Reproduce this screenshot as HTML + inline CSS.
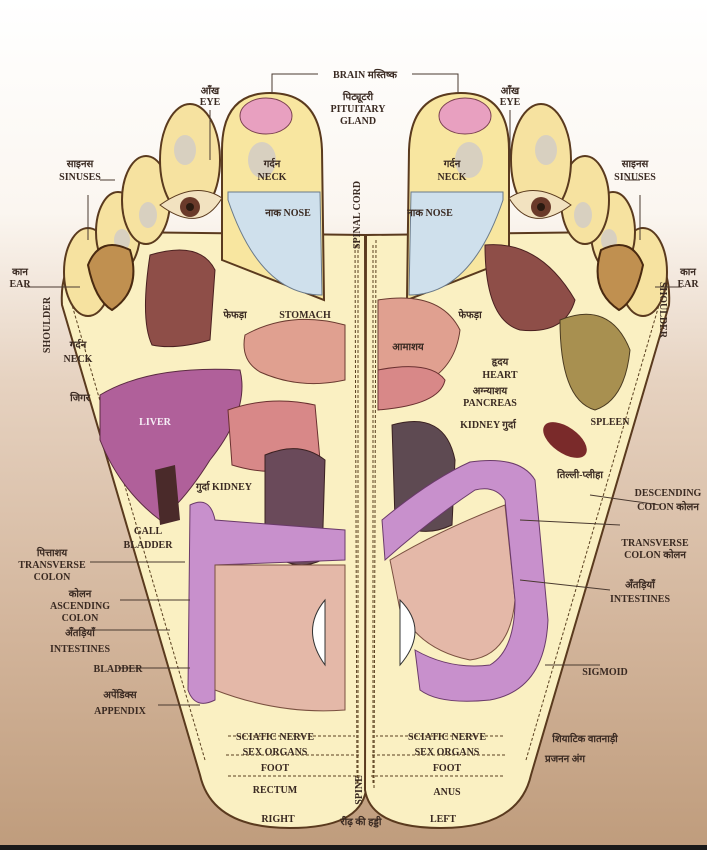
<!DOCTYPE html>
<html><head><meta charset="utf-8"><style>
html,body{margin:0;padding:0;width:707px;height:850px;overflow:hidden}
svg{display:block}
text{font-family:"Liberation Serif","Noto Serif CJK SC","Noto Sans CJK SC",serif;font-weight:bold;fill:#3a2a22;font-size:10px}
.c{text-anchor:middle}
.l{stroke:#4a3a30;stroke-width:1;fill:none}
.d{stroke:#5a4020;stroke-width:1;stroke-dasharray:3,2;fill:none}
</style></head><body>
<svg width="707" height="850" viewBox="0 0 707 850">
<defs>
<linearGradient id="bg" x1="0" y1="0" x2="0" y2="1">
<stop offset="0" stop-color="#ffffff"/><stop offset="0.25" stop-color="#fbf6f0"/>
<stop offset="0.45" stop-color="#e6d2c0"/><stop offset="0.75" stop-color="#d2b49a"/>
<stop offset="1" stop-color="#bf9c7c"/></linearGradient>
<g id="foot">
<path d="M365 235 L366 790 Q360 828 290 828 Q212 828 200 775 L62 305 Q58 245 120 232 Z" fill="#faf0c2" stroke="#5a3a1e" stroke-width="2"/>
<path d="M358 245 L358 785 M205 760 L72 305" class="d"/>
<ellipse cx="88" cy="272" rx="24" ry="44" fill="#f6e2a0" stroke="#5a3a1e" stroke-width="2"/>
<ellipse cx="118" cy="232" rx="22" ry="40" fill="#f6e2a0" stroke="#5a3a1e" stroke-width="2"/>
<ellipse cx="146" cy="200" rx="24" ry="44" fill="#f6e2a0" stroke="#5a3a1e" stroke-width="2"/>
<ellipse cx="190" cy="160" rx="30" ry="56" fill="#f6e2a0" stroke="#5a3a1e" stroke-width="2"/>
<path d="M222 260 L222 150 Q222 93 270 93 Q320 93 322 150 L324 300 Z" fill="#f8e6a0" stroke="#5a3a1e" stroke-width="2"/>
<path d="M228 192 L320 192 L322 295 Q260 295 228 200 Z" fill="#cfe0ec" stroke="#6a7a8a"/>
<ellipse cx="266" cy="116" rx="26" ry="18" fill="#e8a0c0" stroke="#7a4050"/>
<ellipse cx="262" cy="160" rx="14" ry="18" fill="#d8d0c0"/>
<ellipse cx="185" cy="150" rx="11" ry="15" fill="#d8d0c0"/>
<ellipse cx="148" cy="215" rx="9" ry="13" fill="#d8d0c0"/>
<ellipse cx="122" cy="240" rx="8" ry="11" fill="#d8d0c0"/>
<path d="M160 205 Q195 180 222 198 Q200 235 160 205 Z" fill="#f2e2c0" stroke="#5a3a1e"/>
<circle cx="190" cy="207" r="10" fill="#6a3a2a"/><circle cx="190" cy="207" r="4" fill="#2a1a10"/>
<path d="M88 265 Q100 235 130 250 Q142 290 112 310 Q95 300 88 265 Z" fill="#c09050" stroke="#4a2a10" stroke-width="2"/>
<path d="M355 240 L357 790" class="d"/>
<path d="M228 736 L355 736 M226 755 L360 755 M228 776 L360 776" class="d"/>
</g>
</defs>
<rect width="707" height="850" fill="url(#bg)"/>
<rect y="845" width="707" height="5" fill="#1a1a1a"/>
<use href="#foot"/>
<use href="#foot" transform="translate(731,0) scale(-1,1)"/>
<!-- left organs -->
<path d="M150 255 Q200 240 215 270 L210 340 Q175 350 152 345 Q140 320 150 255 Z" fill="#8e4e48" stroke="#4a2020"/>
<path d="M245 335 Q290 310 345 325 L345 380 Q300 390 260 372 Q240 360 245 335 Z" fill="#e0a090" stroke="#6a3a30"/>
<path d="M100 395 Q150 365 240 370 Q250 410 210 460 Q185 500 160 520 Q120 490 100 440 Z" fill="#b0609a" stroke="#5a2a40"/>
<path d="M155 470 L175 465 L180 520 L160 525 Z" fill="#4a2a2a"/>
<path d="M228 410 Q270 395 315 405 L320 460 Q280 480 232 465 Z" fill="#d88888" stroke="#6a3030"/>
<path d="M265 455 Q300 440 325 460 L322 560 Q290 575 265 545 Z" fill="#6a4a5a" stroke="#3a2020"/>
<path d="M190 505 Q210 495 215 520 L345 530 L345 560 L215 565 L215 700 Q195 710 188 690 Z" fill="#c890cc" stroke="#6a3a6a"/>
<path d="M215 565 L345 565 L345 710 Q280 715 215 690 Z" fill="#e4b8a8" stroke="#7a5040"/>
<path d="M325 600 Q300 630 325 665 Z" fill="#fff" stroke="#333"/>
<!-- right organs -->
<path d="M485 245 Q540 240 575 300 Q565 335 520 330 Q485 320 485 245 Z" fill="#8e4e48" stroke="#4a2020"/>
<path d="M560 320 Q610 300 630 350 Q625 400 595 410 Q560 400 560 320 Z" fill="#a89050" stroke="#4a3a20"/>
<ellipse cx="565" cy="440" rx="25" ry="13" transform="rotate(35 565 440)" fill="#7a2a2a"/>
<path d="M378 300 Q440 290 460 330 Q455 370 420 385 L378 385 Z" fill="#e0a090" stroke="#6a3a30"/>
<path d="M378 370 Q430 360 445 380 Q440 405 378 410 Z" fill="#d88888" stroke="#6a3030"/>
<path d="M392 425 Q445 410 455 460 L452 525 Q420 540 395 520 Z" fill="#5e4a52" stroke="#3a2020"/>
<path d="M390 560 Q440 530 505 505 L515 600 Q510 655 470 660 Q420 650 400 610 Z" fill="#e4b8a8" stroke="#7a5040"/>
<path d="M382 520 Q430 480 470 462 Q520 455 535 480 L548 620 Q545 690 490 700 Q440 705 420 690 L415 650 Q450 670 490 665 Q515 650 515 600 L505 500 Q495 485 475 490 Q430 520 385 560 Z" fill="#c890cc" stroke="#6a3a6a"/>
<path d="M400 600 Q430 630 400 665 Z" fill="#fff" stroke="#333"/>
<!-- leader lines -->
<path class="l" d="M272 93 L272 74 L318 74 M412 74 L458 74 L458 93"/>
<path class="l" d="M210 110 L210 160 M510 110 L510 160"/>
<path class="l" d="M100 180 L115 180 M88 195 L88 240 M640 180 L625 180 M640 195 L640 240"/>
<path class="l" d="M25 287 L80 287 M682 287 L655 287"/>
<path class="l" d="M82 630 L170 630 M118 668 L190 668 M158 705 L200 705 M90 562 L185 562 M120 600 L190 600"/>
<path class="l" d="M600 665 L545 665 M620 525 L520 520 M610 590 L520 580 M660 505 L590 495"/>
<!-- labels -->
<text x="365" y="78" class="c">BRAIN मस्तिष्क</text>
<text x="210" y="94" class="c">आँख</text><text x="210" y="105" class="c">EYE</text>
<text x="510" y="94" class="c">आँख</text><text x="510" y="105" class="c">EYE</text>
<text x="358" y="100" class="c">पिट्यूटरी</text><text x="358" y="112" class="c" font-size="9">PITUITARY</text><text x="358" y="124" class="c">GLAND</text>
<text x="80" y="167" class="c">साइनस</text><text x="80" y="180" class="c">SINUSES</text>
<text x="635" y="167" class="c">साइनस</text><text x="635" y="180" class="c">SINUSES</text>
<text x="272" y="167" class="c">गर्दन</text><text x="272" y="180" class="c">NECK</text>
<text x="452" y="167" class="c">गर्दन</text><text x="452" y="180" class="c">NECK</text>
<text x="288" y="216" class="c">नाक NOSE</text><text x="430" y="216" class="c">नाक NOSE</text>
<text transform="translate(360,215) rotate(-90)" class="c">SPINAL CORD</text>
<text x="20" y="275" class="c">कान</text><text x="20" y="287" class="c">EAR</text>
<text x="688" y="275" class="c">कान</text><text x="688" y="287" class="c">EAR</text>
<text transform="translate(50,325) rotate(-90)" class="c">SHOULDER</text>
<text transform="translate(660,310) rotate(90)" class="c">SHOULDER</text>
<text x="78" y="348" class="c">गर्दन</text><text x="78" y="362" class="c">NECK</text>
<text x="80" y="401" class="c">जिगर</text>
<text x="155" y="425" class="c" style="fill:#f6eef6" font-size="13">LIVER</text>
<text x="235" y="318" class="c">फेफड़ा</text><text x="305" y="318" class="c">STOMACH</text>
<text x="470" y="318" class="c">फेफड़ा</text>
<text x="408" y="350" class="c" font-size="12">आमाशय</text>
<text x="500" y="365" class="c">हृदय</text><text x="500" y="378" class="c">HEART</text>
<text x="490" y="394" class="c">अग्न्याशय</text><text x="490" y="406" class="c">PANCREAS</text>
<text x="488" y="428" class="c">KIDNEY गुर्दा</text>
<text x="610" y="425" class="c">SPLEEN</text>
<text x="580" y="478" class="c">तिल्ली-प्लीहा</text>
<text x="668" y="496" class="c">DESCENDING</text><text x="668" y="510" class="c">COLON कोलन</text>
<text x="224" y="490" class="c">गुर्दा KIDNEY</text>
<text x="148" y="534" class="c">GALL</text><text x="148" y="548" class="c">BLADDER</text>
<text x="52" y="556" class="c">पित्ताशय</text><text x="52" y="568" class="c">TRANSVERSE</text><text x="52" y="580" class="c">COLON</text>
<text x="655" y="546" class="c">TRANSVERSE</text><text x="655" y="558" class="c">COLON कोलन</text>
<text x="640" y="588" class="c">अँतड़ियाँ</text><text x="640" y="602" class="c">INTESTINES</text>
<text x="80" y="597" class="c">कोलन</text><text x="80" y="609" class="c">ASCENDING</text><text x="80" y="621" class="c">COLON</text>
<text x="80" y="636" class="c">अँतड़ियाँ</text><text x="80" y="652" class="c">INTESTINES</text>
<text x="118" y="672" class="c">BLADDER</text>
<text x="605" y="675" class="c">SIGMOID</text>
<text x="120" y="698" class="c">अपेंडिक्स</text><text x="120" y="714" class="c">APPENDIX</text>
<text x="275" y="740" class="c">SCIATIC NERVE</text><text x="447" y="740" class="c">SCIATIC NERVE</text>
<text x="275" y="755" class="c">SEX ORGANS</text><text x="447" y="755" class="c">SEX ORGANS</text>
<text x="275" y="771" class="c">FOOT</text><text x="447" y="771" class="c">FOOT</text>
<text x="585" y="742" class="c">शियाटिक वातनाड़ी</text><text x="565" y="762" class="c">प्रजनन अंग</text>
<text x="275" y="793" class="c">RECTUM</text><text x="447" y="795" class="c">ANUS</text>
<text transform="translate(362,790) rotate(-90)" class="c">SPINE</text>
<text x="278" y="822" class="c">RIGHT</text><text x="361" y="825" class="c">रीढ़ की हड्डी</text><text x="443" y="822" class="c">LEFT</text>
</svg>
</body></html>
